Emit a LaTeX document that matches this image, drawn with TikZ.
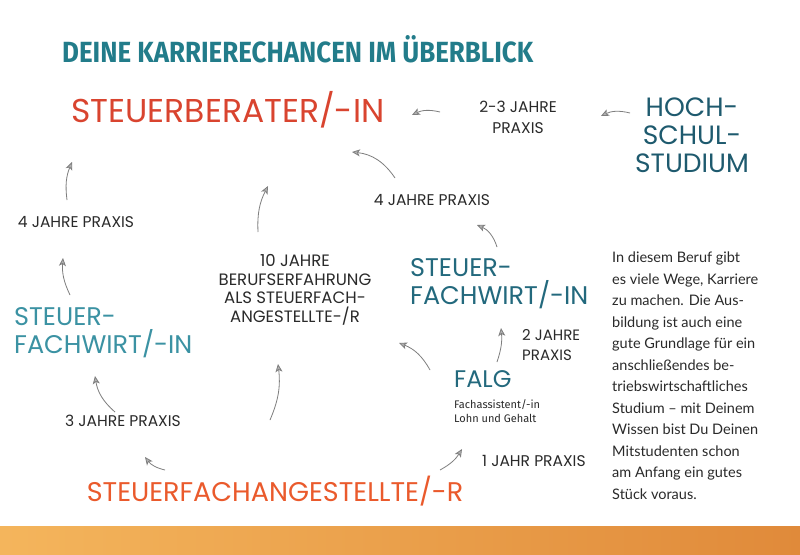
\documentclass[tikz,border=0pt]{standalone}
\usepackage{fontspec}
\setmainfont{Lato}
\newfontfamily\handfont{Poppins}
\newfontfamily\titlefont{Fira Sans}
\newfontfamily\smallfont{Fira Sans}
\usetikzlibrary{arrows.meta}

\definecolor{titleteal}{HTML}{227C8A}
\definecolor{berater}{HTML}{D9442F}
\definecolor{angest}{HTML}{EA5A2C}
\definecolor{studium}{HTML}{1E5A6E}
\definecolor{wirt}{HTML}{23697D}
\definecolor{wirtl}{HTML}{3B92A3}
\definecolor{ink}{HTML}{2A2A2A}
\definecolor{arrowgray}{HTML}{7E7E7E}
\definecolor{barleft}{HTML}{F4B55C}
\definecolor{barright}{HTML}{E08A3A}

\begin{document}
\begin{tikzpicture}[x=1pt, y=-1pt,
    job/.style={font=\handfont\fontsize{25.5}{28}\selectfont, inner sep=0pt, align=left},
    praxis/.style={font=\handfont\fontsize{15.5}{21}\selectfont, text=ink, inner sep=0pt, align=center},
    pfeil/.style={draw=arrowgray, line width=0.8pt, -{Stealth[length=8pt, width=7pt, inset=2pt, fill=arrowgray!60]}}]
    \useasboundingbox (0,0) rectangle (800,554);
    \fill[white] (0,0) rectangle (800,554);
    \shade[left color=barleft, right color=barright] (0,526) rectangle (800,554);

    \node[anchor=west, inner sep=0pt, text=titleteal] (titel) at (62,49)
        {\resizebox{471pt}{27pt}{\titlefont\bfseries DEINE KARRIERECHANCEN IM ÜBERBLICK}};

    \node[job, text=berater, font=\handfont\fontsize{33}{36}\selectfont] (berater) at (228,110) {STEUERBERATER/-IN};
    \node[praxis] (p23) at (518,117) {2-3 JAHRE\\PRAXIS};
    \node[job, text=studium, align=center, font=\handfont\fontsize{26.5}{28}\selectfont] (studium) at (692,135) {HOCH-\\SCHUL-\\STUDIUM};
    \node[praxis] (p4a) at (432,200) {4 JAHRE PRAXIS};
    \node[job, text=wirt, anchor=west] (wirtr) at (410,284) {STEUER-\\FACHWIRT/-IN};
    \node[praxis, align=left, anchor=west, font=\handfont\fontsize{15}{19.5}\selectfont] (p2) at (522,345) {2 JAHRE\\PRAXIS};
    \node[job, text=wirt, anchor=west, font=\handfont\fontsize{24}{28}\selectfont] (falg) at (454,379) {FALG};
    \node[anchor=west, inner sep=0pt, align=left, text=ink, font=\smallfont\fontsize{11}{14.5}\selectfont] (fa) at (454,411) {Fachassistent/-in\\Lohn und Gehalt};
    \node[praxis, anchor=west] (p1) at (482,461) {1 JAHR PRAXIS};
    \node[job, text=angest, font=\handfont\fontsize{27}{30}\selectfont] (angest) at (275,491) {STEUERFACHANGESTELLTE/-R};
    \node[praxis, font=\handfont\fontsize{16.5}{18.5}\selectfont] (p10) at (295,290) {10 JAHRE\\BERUFSERFAHRUNG\\ALS STEUERFACH-\\ANGESTELLTE-/R};
    \node[praxis] (p3) at (123,421) {3 JAHRE PRAXIS};
    \node[job, text=wirtl, anchor=west] (wirtl) at (14,333) {STEUER-\\FACHWIRT/-IN};
    \node[praxis] (p4b) at (76,222) {4 JAHRE PRAXIS};

    \node[anchor=north west, inner sep=0pt, align=left, text=ink, font=\fontsize{14.5}{21.5}\selectfont] (info) at (612,252)
        {In diesem Beruf gibt\\es viele Wege, Karriere\\zu machen. Die Aus-\\bildung ist auch eine\\gute Grundlage für ein\\anschließendes be-\\triebswirtschaftliches\\Studium – mit Deinem\\Wissen bist Du Deinen\\Mitstudenten schon\\am Anfang ein gutes\\Stück voraus.};

    % arrow ends
    \coordinate (a1) at (440,112);  \coordinate (b1) at (412,115);
    \coordinate (a2) at (630,113);  \coordinate (b2) at (601,116);
    \coordinate (a3) at (395,178);  \coordinate (b3) at (352,152);
    \coordinate (a4) at (497,247);  \coordinate (b4) at (477,225);
    \coordinate (a5) at (497,362);  \coordinate (b5) at (501,328);
    \coordinate (a6) at (430,370);  \coordinate (b6) at (399,343);
    \coordinate (a7) at (440,470);  \coordinate (b7) at (462,449);
    \coordinate (a8) at (270,420);  \coordinate (b8) at (278,364);
    \coordinate (a9) at (258,232);  \coordinate (b9) at (268,186);
    \coordinate (a10) at (165,470); \coordinate (b10) at (145,457);
    \coordinate (a11) at (115,412); \coordinate (b11) at (95,376);
    \coordinate (a12) at (70,295);  \coordinate (b12) at (63,258);
    \coordinate (a13) at (67,200);  \coordinate (b13) at (72,162);

    \draw[pfeil] (a1) to[bend right=20] (b1);
    \draw[pfeil] (a2) to[bend right=20] (b2);
    \draw[pfeil] (a3) to[bend right=25] (b3);
    \draw[pfeil] (a4) to[bend right=25] (b4);
    \draw[pfeil] (a5) to[bend right=12] (b5);
    \draw[pfeil] (a6) to[bend right=20] (b6);
    \draw[pfeil] (a7) to[bend right=15] (b7);
    \draw[pfeil] (a8) to[bend right=15] (b8);
    \draw[pfeil] (a9) to[bend left=15] (b9);
    \draw[pfeil] (a10) to[bend left=20] (b10);
    \draw[pfeil] (a11) to[bend left=20] (b11);
    \draw[pfeil] (a12) to[bend left=15] (b12);
    \draw[pfeil] (a13) to[bend left=15] (b13);
\end{tikzpicture}
\end{document}
